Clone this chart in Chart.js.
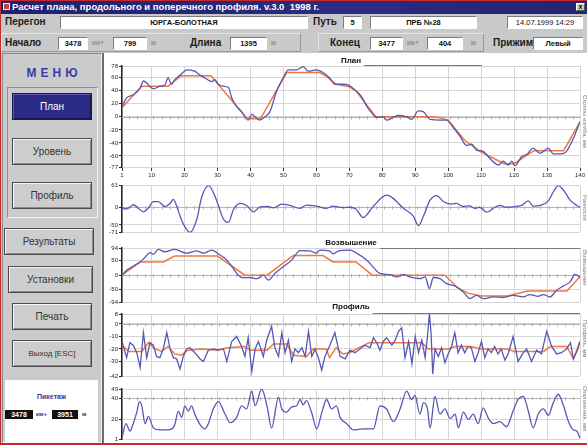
<!DOCTYPE html>
<html>
<head>
<meta charset="utf-8">
<script src="https://cdn.jsdelivr.net/npm/chart.js@4.4.1/dist/chart.umd.min.js"></script>
<style>
  html, body { margin: 0; padding: 0; }
  body { width: 587px; height: 445px; overflow: hidden; position: relative;
         background: #c9c9c9; font-family: "Liberation Sans", Arial, sans-serif; color: #222; }
  .a { position: absolute; }
  .frameL { left: 0; top: 0; width: 1px; height: 445px; background: #c62b2b; }
  .frameT { left: 0; top: 0; width: 587px; height: 1px; background: #c62b2b; }
  .frameB { left: 0; top: 443px; width: 587px; height: 2px; background: #c62b2b; }
  .titlebar { left: 1px; top: 1px; width: 586px; height: 13px;
              background: linear-gradient(90deg, #20206c, #2c2c82 60%, #24246f); }
  .titletext { left: 12px; top: 1px; color: #fff; font: bold 9.5px "Liberation Sans", Arial, sans-serif;
               white-space: nowrap; line-height: 12px; }
  .icon { left: 3px; top: 3px; width: 7px; height: 7px; background: #c84040; border: 1px solid #eee; box-sizing: border-box; }
  .close { left: 576px; top: 3px; width: 9px; height: 8px; background: #cfcfcf; border: 1px solid #fff;
           border-right-color: #555; border-bottom-color: #555; box-sizing: border-box;
           font: bold 7px Arial; line-height: 6px; text-align: center; color: #000; }
  .lbl { font: bold 10px "Liberation Sans", Arial, sans-serif; color: #1c1c1c; white-space: nowrap; line-height: 12px; }
  .unit { font: 7px "Liberation Sans", Arial, sans-serif; color: #808080; white-space: nowrap; line-height: 12px; }
  .fld { background: #fff; box-sizing: border-box; height: 13px; border: 1px solid #fff;
         border-top-color: #7c7c7c; border-left-color: #7c7c7c;
         font: bold 7.5px "Liberation Sans", Arial, sans-serif; color: #111; text-align: center; line-height: 11px; white-space: nowrap; }
  .panel { box-sizing: border-box; border: 1px solid #e4e4e4; border-right-color: #9a9a9a; border-bottom-color: #9a9a9a; }
  .menu { left: 2px; top: 53px; width: 100px; height: 390px; background: #cbcbcb; box-sizing: border-box;
          border: 1px solid #8a8a8a; border-right-color: #f2f2f2; border-bottom-color: #f2f2f2; }
  .menutitle { left: 2px; top: 66px; width: 100px; text-align: center; font: bold 12px "Liberation Sans", Arial, sans-serif;
               color: #3b3ba6; letter-spacing: 4px; text-indent: 4px; }
  .group { left: 7px; top: 87px; width: 91px; height: 131px; box-sizing: border-box;
           border: 1px solid #f2f2f2; border-left-color: #8e8e8e; border-top-color: #8e8e8e; }
  .btn { box-sizing: border-box; height: 27px; background: #cdcdcd; border: 1px solid #4a4a4a;
         box-shadow: inset 1px 1px 0 #f4f4f4, inset -1px -1px 0 #8a8a8a;
         font: 10px "Liberation Sans", Arial, sans-serif; color: #333; text-align: center; line-height: 25px; white-space: nowrap; }
  .btn.on { background: #2b2b86; color: #fff; border-color: #1a1a4a;
            box-shadow: inset 1px 1px 0 #5a5ab0, inset -1px -1px 0 #161650; }
  .pik { left: 5px; top: 380px; width: 93px; height: 62px; background: #fff; }
  .piktitle { left: 5px; top: 393px; width: 93px; text-align: center; font: bold 7px "Liberation Sans", Arial, sans-serif; color: #3434a0; }
  .pikfld { top: 410px; height: 9px; background: #111; color: #fff; font: bold 7px "Liberation Sans", Arial, sans-serif;
            line-height: 9px; text-align: center; }
  .pikunit { top: 410px; font: bold 6px "Liberation Sans", Arial, sans-serif; color: #3434a0; line-height: 9px; }
  .charts { left: 102px; top: 53px; width: 485px; height: 390px; background: #fff; box-sizing: border-box;
            border-left: 2px solid #6c6c6c; }
  canvas { position: absolute; left: 104px; }
  .side { font: 6px "Liberation Sans", Arial, sans-serif; color: #7e7e7e; white-space: nowrap;
          transform-origin: 0 0; transform: rotate(90deg); }
</style>
</head>
<body>
<div class="a frameT"></div>
<div class="a titlebar"></div>
<div class="a icon"></div>
<div class="a titletext">Расчет плана, продольного и поперечного профиля. v.3.0&nbsp; 1998 г.</div>
<div class="a close">x</div>

<!-- header: section and position fields -->
<div class="a lbl" style="left:5px;top:16px;">Перегон</div>
<div class="a fld" style="left:60px;top:16px;width:248px;">ЮРГА-БОЛОТНАЯ</div>
<div class="a lbl" style="left:313px;top:16px;">Путь</div>
<div class="a fld" style="left:343px;top:16px;width:19px;">5</div>
<div class="a fld" style="left:370px;top:16px;width:107px;">ПРБ №28</div>
<div class="a fld" style="left:507px;top:16px;width:76px;font-weight:normal;">14.07.1999 14:29</div>

<div class="a panel" style="left:1px;top:33px;width:300px;height:19px;"></div>
<div class="a panel" style="left:318px;top:33px;width:166px;height:19px;"></div>
<div class="a lbl" style="left:5px;top:37px;">Начало</div>
<div class="a fld" style="left:58px;top:37px;width:30px;">3478</div>
<div class="a unit" style="left:92px;top:37px;">км+</div>
<div class="a fld" style="left:113px;top:37px;width:34px;">799</div>
<div class="a unit" style="left:151px;top:37px;">м</div>
<div class="a lbl" style="left:190px;top:37px;">Длина</div>
<div class="a fld" style="left:230px;top:37px;width:37px;">1395</div>
<div class="a unit" style="left:271px;top:37px;">м</div>
<div class="a lbl" style="left:330px;top:37px;">Конец</div>
<div class="a fld" style="left:370px;top:37px;width:33px;">3477</div>
<div class="a unit" style="left:407px;top:37px;">км+</div>
<div class="a fld" style="left:427px;top:37px;width:36px;">404</div>
<div class="a unit" style="left:471px;top:37px;">м</div>
<div class="a lbl" style="left:493px;top:37px;">Прижим</div>
<div class="a fld" style="left:533px;top:37px;width:50px;">Левый</div>

<!-- left menu -->
<div class="a menu"></div>
<div class="a menutitle">МЕНЮ</div>
<div class="a group"></div>
<div class="a btn on" style="left:12px;top:93px;width:80px;">План</div>
<div class="a btn" style="left:12px;top:138px;width:80px;">Уровень</div>
<div class="a btn" style="left:12px;top:182px;width:80px;">Профиль</div>
<div class="a btn" style="left:4px;top:228px;width:90px;">Результаты</div>
<div class="a btn" style="left:8px;top:266px;width:85px;">Установки</div>
<div class="a btn" style="left:12px;top:303px;width:80px;">Печать</div>
<div class="a btn" style="left:12px;top:340px;width:80px;font-size:8px;">Выход [ESC]</div>
<div class="a pik"></div>
<div class="a piktitle">Пикетаж</div>
<div class="a pikfld" style="left:5px;width:28px;">3478</div>
<div class="a pikunit" style="left:36px;">км+</div>
<div class="a pikfld" style="left:52px;width:26px;">3951</div>
<div class="a pikunit" style="left:82px;">м</div>

<!-- chart panel -->
<div class="a charts"></div>
<canvas id="cPlan" width="483" height="126" style="top:55px;"></canvas>
<canvas id="cDiff" width="483" height="56" style="top:181px;"></canvas>
<canvas id="cCant" width="483" height="70" style="top:237px;"></canvas>
<canvas id="cProf" width="483" height="82" style="top:299px;"></canvas>
<canvas id="cDev" width="483" height="63" style="top:381px;"></canvas>

<div class="a side" style="left:588px;top:95px;">Стрелы изгиба, мм</div>
<div class="a side" style="left:588px;top:195px;">Разности</div>
<div class="a side" style="left:588px;top:250px;">Возвышение</div>
<div class="a side" style="left:588px;top:320px;">Профиль, мм</div>
<div class="a side" style="left:588px;top:386px;">Отклонения, мм</div>
<div class="a frameL"></div>
<div class="a frameB"></div>

<script>
// ---- picket axis (hundreds of metres along the stretch) ----
const xTicks = [1, 10, 20, 30, 40, 50, 60, 70, 80, 90, 100, 110, 120, 130, 140];

// ---- План: measured and design versines ----
const planTicks = [78, 60, 40, 20, 0, -20, -40, -60, -77];
const planMeasX = [1, 2.4, 4.4, 6.5, 7.5, 8.5, 9.5, 10.5, 12.5, 14, 15, 16, 17, 18.6, 20.8, 23, 24.7, 26.7, 28.2, 29.2,
  30.2, 31.7, 33.3, 34.3, 35.8, 37.3, 39.3, 40.4, 41.4, 42.7, 44.4, 45.9, 47.9, 49.9, 51.5, 54, 56, 57.5, 60, 62,
  64, 65.6, 68, 70, 71.7, 73.7, 75.3, 77.3, 78.3, 80.3, 81.3, 83.3, 84.9, 87.4, 88.9, 90.9, 92.4, 94.5, 97.5, 99.5,
  101.5, 103.6, 105.6, 107.1, 108.6, 110.6, 112.7, 115.2, 116.7, 118.2, 119.3, 120.3, 122.3, 123.8, 125.8, 127.9,
  130.4, 131.9, 134.4, 135.9, 138, 140];
const planMeas = [16, 29, 34, 44, 55, 52, 46, 43, 47, 49, 60, 50, 57, 64, 72, 70, 64, 58, 54, 57,
  50, 47, 45, 29, 16, 8, -5, 4, 0, -5, 0, 8, 39, 60, 72, 72, 77, 70, 72, 68,
  60, 50, 50, 48, 41, 31, 16, 3, -1, 0, -5, -1, 2, 0, -4, 9, 8, -4, -5, -5,
  -16, -30, -44, -42, -51, -53, -64, -74, -68, -74, -68, -75, -61, -58, -48, -56,
  -48, -57, -57, -53, -33, -7];
const planDesignX = [1, 7, 15, 19, 28, 39, 43, 51, 61, 63, 66, 70, 72, 78, 96, 100, 105, 110, 117, 120, 126, 135, 140];
const planDesign = [14, 47, 47, 63, 63, -3, -3, 68, 68, 62, 50, 46, 40, 0, 0, -5, -36, -54, -72, -72, -52, -52, -8];

// ---- differences between measured and design ----
const diffTicks = [61, 0, -50, -71];
const diffX = [1, 1.9, 3.4, 4.4, 5.9, 7.5, 9, 10.5, 12, 14, 15.6, 16.6, 18.1, 19.6, 21.7, 23.7, 25.2, 27.3, 29.3, 31.8,
  33.3, 34.8, 36.8, 38.8, 40.9, 42.9, 45, 47, 49.5, 52, 55, 57, 60, 63, 65, 68, 70.2, 72, 74.2, 77.3,
  81.3, 83.3, 86.4, 89.4, 91, 92.5, 94.5, 96.5, 98.5, 101, 102.5, 104.5, 106.5, 108, 109.5, 111.7, 114.2, 115.7,
  117.7, 120.3, 122.3, 124.3, 125.8, 127.9, 130.4, 131.9, 133.4, 135, 137, 139, 140];
const diffVals = [0, -5, 0, 7, -2, -13, -2, 16, 16, 2, 11, 22, -11, -47, -71, -34, 29, 61, 29, -34,
  -43, -7, 11, 5, -13, 1, 2, -2, 9, 5, -3, 6, 3, -3, 3, -1, 0, -5, -29, 3,
  34, 25, -3, -25, -52, -25, 20, 33, 16, 9, 11, 2, 4, -3, 0, -14, 0, 5,
  0, 2, 5, 18, 3, 5, 18, 43, 61, 48, 20, 5, 0];

// ---- Возвышение: measured and design cant ----
const cantTicks = [94, 50, 0, -50, -94];
const cantMeasX = [1, 2.4, 4.4, 6.5, 8, 9.5, 10.5, 12, 14, 17, 20.6, 23.7, 25.7, 28.2, 30.7, 32.8, 34.8, 36.3, 37.8, 39.9,
  41.9, 43.9, 45.4, 47.4, 49.9, 52.5, 55, 58, 60, 61, 64, 65, 67, 70.2, 72.2, 75.3, 77.3, 79.3, 82.4, 84.4,
  86.4, 88.4, 91.4, 93, 94.3, 95.5, 97.5, 99.5, 102, 104.6, 106.6, 108.6, 110.6, 113.7, 116.7, 119.7, 122.8,
  124.8, 127.3, 128.9, 130.9, 132.9, 135, 137, 138.5, 139.5, 140];
const cantMeas = [0, 17, 31, 46, 62, 78, 72, 89, 81, 89, 76, 84, 76, 87, 70, 52, 23, 0, -9, -8,
  -12, 0, -17, 6, 29, 52, 85, 84, 76, 87, 84, 74, 85, 87, 76, 52, 27, 6, 2, -6,
  2, -6, -12, -6, -46, -8, -12, -29, -37, -58, -81, -70, -81, -75, -77, -70, -75,
  -67, -73, -67, -75, -52, -37, -23, 3, -3, -9];
const cantDesignX = [1, 6.5, 13.5, 17, 30, 38.3, 45, 53, 62, 65, 72, 77, 99, 103, 106, 110, 118, 124, 136, 140];
const cantDesign = [0, 46, 46, 66, 66, 0, 0, 68, 68, 46, 46, 0, 0, -45, -62, -72, -72, -55, -55, -5];

// ---- Профиль: measured and smoothed longitudinal profile ----
const profTicks = [8, 0, -10, -20, -30, -42];
const profMeasX = [1, 2.4, 3.4, 4.4, 5.5, 6.5, 7.5, 8.5, 9.5, 10.5, 11.5, 12.5, 13.5, 14.6, 15.6, 16.6, 17.6, 18.6, 19.6, 20.6,
  21.6, 23.1, 24.7, 25.7, 27.2, 28.7, 30.2, 31.8, 32.8, 34.3, 35.8, 37.3, 38.3, 39.3, 40.4, 41.4, 42.4, 43.9, 44.9, 46.4,
  47.4, 48.5, 49.5, 50.5, 51.5, 52.5, 53.5, 54.5, 55.6, 56.6, 57.6, 58.6, 59.6, 60.6, 61.6, 62.6, 64.1, 65.6, 67.2, 68.7,
  70.2, 71.7, 73.2, 74.7, 76.3, 77.3, 78.3, 79.3, 80.3, 81.3, 82.9, 83.9, 84.9, 85.9, 86.9, 88, 89, 90, 91, 92,
  93, 93.7, 94.3, 94.8, 95.3, 96, 97, 98, 99, 100, 101, 102, 103, 104, 105, 106, 107, 108.1, 109.1, 110.1,
  111.1, 112.1, 113.1, 114.1, 115.1, 116.1, 117.2, 118.2, 119.7, 121.2, 122.8, 123.8, 125.3, 126.8, 128.3, 129.9, 131.4,
  132.9, 134.4, 135.9, 137.1, 138, 139.2, 140];
const profMeas = [-14, -27, -15, -17, -23, -35, -7, -27, -15, -17, -26, -27, -20, -7, -20, -27, -28, -36, -26, -20,
  -19, -23, -28, -30, -21, -20, -21, -20, -30, -14, -10, -18, -26, -11, -38, -20, -14, -26, -13, -2,
  -19, -26, -7, -23, -13, -30, -20, -23, -19, -26, -6, -26, -20, -27, -37, -26, -17, -7, -26, -28,
  -21, -23, -20, -17, -19, -11, -15, -21, -14, -11, -17, -13, -6, -3, -27, -14, -32, -10, -23, -13,
  -27, -10, 8, -7, -40, -20, -26, -19, -31, -24, -18, -7, -23, -17, -23, -18, -19, -30, -23, -14,
  -27, -20, -23, -18, -24, -20, -29, -24, -10, -30, -23, -20, -30, -21, -24, -6, -18,
  -24, -23, -20, -15, -28, -21, -14];
const profDesignX = [1, 3, 7, 9, 11, 13, 15, 17, 19, 21, 25, 30, 33, 38, 40, 45, 47, 51, 53, 57, 59, 63, 64, 66, 68,
  70, 73, 76, 92, 94, 100, 102, 107, 110, 118, 120, 129, 131, 136, 138, 140];
const profDesign = [-17, -22, -22, -15, -20, -22, -18, -24, -25, -21, -20, -21, -19, -18, -21, -21, -16, -16, -25, -26,
  -20, -20, -27, -19, -24, -23, -19, -15, -15, -20, -20, -18, -18, -20, -20, -22, -22, -18, -18, -28, -14];

// ---- lower panel: deviation amplitude ----
const devTicks = [49, 40, 20, 1];
const devX = [1, 2.2, 3.4, 4.4, 5.5, 6.3, 7, 8, 9, 10.5, 12.5, 14.6, 16.1, 17, 18.1, 19.1, 20.1, 21.1, 22.1, 23.1,
  24.7, 26.2, 27.2, 28.7, 30.2, 32.3, 33.8, 35.8, 37.3, 38.8, 40.4, 41.4, 43.4, 45, 46.4, 48.5, 49.5, 51, 52.5, 54,
  55, 56, 57, 58.6, 60.1, 61.6, 63.1, 64.6, 66.1, 67.2, 69.2, 71.2, 74.2, 77.3, 79.3, 81.3, 83.4, 85.4, 87.4, 88.9,
  89.9, 91.4, 92.5, 93.7, 94.5, 96, 97.5, 99, 100.6, 102.1, 103.1, 104.6, 106.1, 107.6, 109.1, 110.6, 112.2, 113.7,
  115.7, 117.7, 119.7, 121.2, 122.8, 124.3, 125.8, 127.3, 128.9, 130.4, 131.9, 133.4, 135, 136.5, 138, 139, 140];
const devVals = [3, 16, 9, 16, 27, 37, 33, 16, 23, 12, 10, 10, 11, 15, 28, 22, 33, 28, 33, 25,
  15, 11, 16, 30, 37, 25, 17, 22, 33, 30, 47, 33, 49, 33, 12, 41, 30, 27, 32, 33,
  39, 34, 38, 26, 11, 26, 39, 30, 33, 22, 16, 10, 11, 11, 33, 30, 18, 30, 47, 39,
  43, 25, 36, 30, 12, 42, 25, 30, 21, 25, 12, 27, 20, 25, 16, 31, 21, 16,
  18, 13, 28, 39, 42, 28, 12, 25, 30, 24, 36, 44, 33, 18, 10, 9, 2];

// ---------------------------------------------------------------
const GRID = '#d6d6d6';
const AXIS = '#262626';
const BLUE = '#5757b6';
const ORANGE = '#ee7842';
const TICK_FONT = { family: '"Liberation Sans", Arial, sans-serif', size: 6 };

const pts = (xs, ys) => xs.map((x, i) => ({ x, y: ys[i] }));

// baseline with short picket marks drawn under the curves
const refLine = {
  id: 'refLine',
  beforeDatasetsDraw(chart, args, opts) {
    if (opts.value === undefined) return;
    const { ctx, chartArea: a, scales: { x, y } } = chart;
    const py = Math.round(y.getPixelForValue(opts.value)) + 0.5;
    ctx.save();
    ctx.strokeStyle = '#b4b4b4';
    ctx.lineWidth = 1;
    ctx.beginPath();
    ctx.moveTo(a.left, py); ctx.lineTo(a.right, py);
    for (let v = 3; v < 140; v += 2.5) {
      const px = Math.round(x.getPixelForValue(v)) + 0.5;
      ctx.moveTo(px, py - 1.5); ctx.lineTo(px, py + 2);
    }
    ctx.stroke();
    ctx.restore();
  }
};

// panel caption centred above the plot, with a rule running to the right
const panelTitle = {
  id: 'panelTitle',
  afterDraw(chart, args, opts) {
    if (!opts.text) return;
    const { ctx, chartArea: a } = chart;
    ctx.save();
    ctx.font = 'bold 8px "Liberation Sans", Arial, sans-serif';
    const w = ctx.measureText(opts.text).width;
    const cx = (a.left + a.right) / 2 + (opts.shift || 0);
    ctx.fillStyle = '#111';
    ctx.textAlign = 'center';
    ctx.textBaseline = 'alphabetic';
    ctx.fillText(opts.text, cx, a.top - (opts.gap || 2));
    ctx.strokeStyle = '#7a7a7a';
    ctx.lineWidth = 1;
    ctx.beginPath();
    const y = Math.round(a.top - (opts.lineUp || 0)) + 0.5;
    ctx.moveTo(cx + w / 2 + 3, y);
    ctx.lineTo(opts.lineEnd ? opts.lineEnd - 104 : a.right, y);
    ctx.stroke();
    ctx.restore();
  }
};

function yAxis(min, max, ticks) {
  return {
    min, max,
    afterFit(s) { s.width = 18; },
    afterBuildTicks(s) { s.ticks = ticks.map(v => ({ value: v })); },
    border: { display: true, color: AXIS, width: 1.5 },
    grid: { color: GRID, tickColor: AXIS, tickLength: 3, drawTicks: true },
    ticks: { font: TICK_FONT, color: '#1e1e1e', padding: 1, autoSkip: false }
  };
}

function xAxis(withLabels) {
  const base = {
    type: 'linear', min: 1, max: 140,
    afterBuildTicks(s) { s.ticks = xTicks.map(v => ({ value: v })); }
  };
  if (withLabels) {
    return Object.assign(base, {
      afterFit(s) { s.height = 12; },
      border: { display: true, color: GRID },
      grid: { color: GRID, tickColor: '#333', tickLength: 4 },
      ticks: { font: TICK_FONT, color: '#1e1e1e', padding: 1, maxRotation: 0, autoSkip: false }
    });
  }
  return Object.assign(base, {
    afterFit(s) { s.height = 0; },
    border: { display: false },
    grid: { color: GRID, drawTicks: false },
    ticks: { display: false }
  });
}

const measured = (data, smooth) => ({
  data, borderColor: BLUE, borderWidth: 1.3, pointRadius: 0,
  cubicInterpolationMode: smooth ? 'monotone' : 'default', tension: 0
});
const design = data => ({ data, borderColor: ORANGE, borderWidth: 1.5, pointRadius: 0, tension: 0 });

function makeChart(id, datasets, yMin, yMax, yTicks, opts) {
  new Chart(document.getElementById(id), {
    type: 'line',
    data: { datasets },
    options: {
      responsive: false,
      animation: false,
      events: [],
      layout: { padding: { top: opts.padTop, bottom: opts.padBottom, left: 0, right: 7 } },
      scales: { x: xAxis(opts.xLabels), y: yAxis(yMin, yMax, yTicks) },
      plugins: {
        legend: { display: false },
        tooltip: { enabled: false },
        refLine: { value: opts.ref },
        panelTitle: opts.title || {}
      }
    },
    plugins: [refLine, panelTitle]
  });
}

makeChart('cPlan', [measured(pts(planMeasX, planMeas), true), design(pts(planDesignX, planDesign))],
  -77, 78, planTicks, { padTop: 11, padBottom: 2, xLabels: true, ref: 0,
    title: { text: 'План', lineEnd: 482, gap: 3, lineUp: 1 } });

makeChart('cDiff', [measured(pts(diffX, diffVals), true)],
  -71, 61, diffTicks, { padTop: 4, padBottom: 3, xLabels: false, ref: 0 });

makeChart('cCant', [measured(pts(cantMeasX, cantMeas), true), design(pts(cantDesignX, cantDesign))],
  -94, 94, cantTicks, { padTop: 11, padBottom: 3, xLabels: false, ref: 0,
    title: { text: 'Возвышение', gap: 3 } });

makeChart('cProf', [measured(pts(profMeasX, profMeas), false), design(pts(profDesignX, profDesign))],
  -42, 8, profTicks, { padTop: 15, padBottom: 4, xLabels: false, ref: 0,
    title: { text: 'Профиль', gap: 5, lineUp: 1 } });

makeChart('cDev', [measured(pts(devX, devVals), true)],
  1, 49, devTicks, { padTop: 8, padBottom: 2, xLabels: false, ref: 40 });
</script>
</body>
</html>
